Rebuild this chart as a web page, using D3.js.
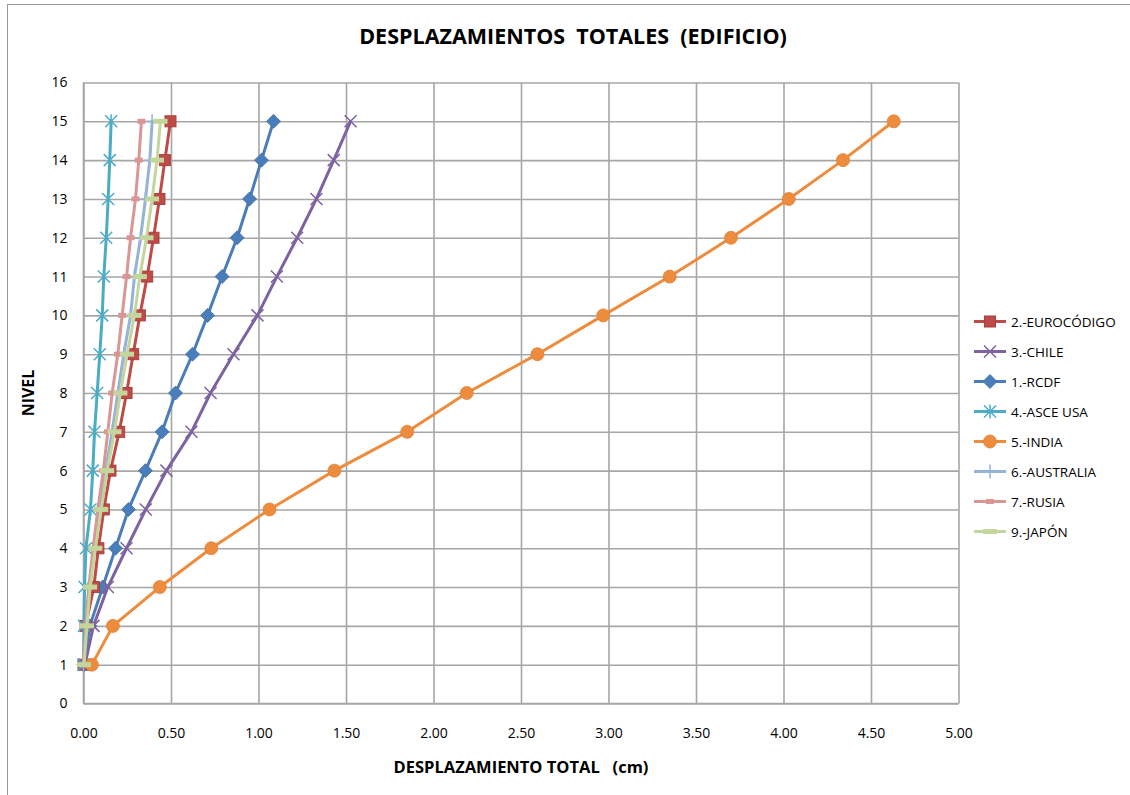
<!DOCTYPE html>
<html>
<head>
<meta charset="utf-8">
<script src="https://cdn.jsdelivr.net/npm/d3@7"></script>
<style>
  html, body { margin: 0; padding: 0; background: #ffffff; }
  svg { display: block; }
  text { font-family: "Open Sans", "Liberation Sans", sans-serif; fill: #000; }
  .keep-space { white-space: pre; }
</style>
</head>
<body>
<svg id="chart" width="1130" height="795"></svg>
<script>
// Levels of the building (y values)
const levels = [1, 2, 3, 4, 5, 6, 7, 8, 9, 10, 11, 12, 13, 14, 15];

// Total displacement per level (cm), one array per code
const eurocodigo = [0.000, 0.012, 0.059, 0.085, 0.116, 0.154, 0.204, 0.246, 0.284, 0.322, 0.364, 0.400, 0.434, 0.465, 0.497];
const chile      = [0.008, 0.057, 0.139, 0.246, 0.356, 0.474, 0.617, 0.726, 0.857, 0.994, 1.105, 1.221, 1.331, 1.430, 1.526];
const rcdf       = [0.003, 0.036, 0.110, 0.183, 0.257, 0.354, 0.449, 0.526, 0.623, 0.709, 0.792, 0.878, 0.949, 1.017, 1.086];
const asceUsa    = [0.000, 0.003, 0.006, 0.014, 0.040, 0.053, 0.063, 0.078, 0.093, 0.107, 0.116, 0.130, 0.141, 0.150, 0.158];
const india      = [0.048, 0.168, 0.436, 0.730, 1.063, 1.434, 1.850, 2.190, 2.594, 2.970, 3.350, 3.700, 4.030, 4.340, 4.630];
const australia  = [0.000, 0.015, 0.035, 0.060, 0.091, 0.126, 0.164, 0.196, 0.230, 0.269, 0.291, 0.326, 0.354, 0.379, 0.392];
const rusia      = [0.000, 0.012, 0.030, 0.055, 0.082, 0.113, 0.139, 0.164, 0.196, 0.221, 0.246, 0.269, 0.297, 0.316, 0.331];
const japon      = [0.003, 0.020, 0.038, 0.068, 0.101, 0.135, 0.177, 0.211, 0.249, 0.291, 0.322, 0.360, 0.392, 0.420, 0.440];

// Axis ticks
const xTicks = [0, 0.5, 1, 1.5, 2, 2.5, 3, 3.5, 4, 4.5, 5];
const yTicks = d3.range(0, 17);

// Series in legend order
const seriesNames  = ["2.-EUROCÓDIGO", "3.-CHILE", "1.-RCDF", "4.-ASCE USA", "5.-INDIA", "6.-AUSTRALIA", "7.-RUSIA", "9.-JAPÓN"];
const seriesValues = [eurocodigo, chile, rcdf, asceUsa, india, australia, rusia, japon];
const seriesColors = ["#BE4B48", "#7E62A1", "#4A7EBB", "#4BACC6", "#EE8C3E", "#95B3D7", "#D99694", "#C3D69B"];
const seriesMarkers = ["square", "x", "diamond", "star", "circle", "plus", "dashSmall", "dash"];

const svg = d3.select("#chart");

// Chart area frame
svg.append("rect")
  .attr("x", 7.5).attr("y", 4.5).attr("width", 1140).attr("height", 800)
  .attr("fill", "#fff").attr("stroke", "#9a9a9a").attr("stroke-width", 1);

const x = d3.scaleLinear().domain([0, 5]).range([83.5, 958.5]);
const y = d3.scaleLinear().domain([0, 16]).range([703.5, 82.5]);

// Gridlines
const grid = svg.append("g").attr("class", "grid");
grid.append("g")
  .attr("transform", `translate(0,${y(0)})`)
  .call(d3.axisBottom(x).tickValues(xTicks).tickSize(-(y(0) - y(16))).tickFormat(""))
  .call(g => g.select(".domain").remove())
  .call(g => g.selectAll("line").attr("stroke", "#a6a6a6").attr("stroke-width", 1.6));
grid.append("g")
  .attr("transform", `translate(${x(0)},0)`)
  .call(d3.axisLeft(y).tickValues(yTicks).tickSize(-(x(5) - x(0))).tickFormat(""))
  .call(g => g.select(".domain").remove())
  .call(g => g.selectAll("line").attr("stroke", "#a6a6a6").attr("stroke-width", 1.6));

// Axis lines
svg.append("line").attr("x1", x(0)).attr("x2", x(0)).attr("y1", y(16)).attr("y2", y(0))
  .attr("stroke", "#a6a6a6").attr("stroke-width", 1.6);
svg.append("line").attr("x1", x(0)).attr("x2", x(5)).attr("y1", y(0)).attr("y2", y(0))
  .attr("stroke", "#a6a6a6").attr("stroke-width", 1.6);

// Tick labels
const xAxis = svg.append("g")
  .attr("transform", `translate(0,${y(0)})`)
  .call(d3.axisBottom(x).tickValues(xTicks).tickSize(0).tickPadding(25).tickFormat(d3.format(".2f")));
xAxis.select(".domain").remove();
xAxis.selectAll("text").attr("font-size", 14).attr("font-family", "'Open Sans', sans-serif").attr("fill", "#000");

const yAxis = svg.append("g")
  .attr("transform", `translate(${x(0)},0)`)
  .call(d3.axisLeft(y).tickValues(yTicks).tickSize(0).tickPadding(16).tickFormat(d3.format("d")));
yAxis.select(".domain").remove();
yAxis.selectAll("text").attr("font-size", 14).attr("font-family", "'Open Sans', sans-serif").attr("fill", "#000");

// Titles
svg.append("text")
  .attr("class", "keep-space")
  .attr("x", 573).attr("y", 44)
  .attr("text-anchor", "middle")
  .attr("font-size", 21.5).attr("font-weight", "bold")
  .text("DESPLAZAMIENTOS  TOTALES  (EDIFICIO)");

svg.append("text")
  .attr("class", "keep-space")
  .attr("x", 521).attr("y", 773)
  .attr("text-anchor", "middle")
  .attr("font-size", 16.5).attr("font-weight", "bold")
  .text("DESPLAZAMIENTO TOTAL   (cm)");

svg.append("text")
  .attr("transform", "translate(34,393) rotate(-90)")
  .attr("text-anchor", "middle")
  .attr("font-size", 16).attr("font-weight", "bold")
  .text("NIVEL");

// Marker drawing
function drawMarker(g, type, color, cx, cy) {
  const dark = d3.color(color).darker(0.4);
  switch (type) {
    case "square":
      g.append("rect").attr("x", cx - 5.5).attr("y", cy - 5.5).attr("width", 11).attr("height", 11)
        .attr("fill", color).attr("stroke", dark).attr("stroke-width", 1);
      break;
    case "diamond":
      g.append("path").attr("d", `M${cx},${cy - 7}L${cx + 7},${cy}L${cx},${cy + 7}L${cx - 7},${cy}Z`)
        .attr("fill", color).attr("stroke", dark).attr("stroke-width", 0.8);
      break;
    case "circle":
      g.append("circle").attr("cx", cx).attr("cy", cy).attr("r", 6.5)
        .attr("fill", color).attr("stroke", d3.color(color).darker(0.2)).attr("stroke-width", 0.8);
      break;
    case "x":
      g.append("path").attr("d", `M${cx - 6},${cy - 6}L${cx + 6},${cy + 6}M${cx - 6},${cy + 6}L${cx + 6},${cy - 6}`)
        .attr("stroke", color).attr("stroke-width", 1.5).attr("fill", "none");
      break;
    case "star":
      g.append("path").attr("d", `M${cx - 6},${cy - 6}L${cx + 6},${cy + 6}M${cx - 6},${cy + 6}L${cx + 6},${cy - 6}M${cx},${cy - 7}L${cx},${cy + 7}`)
        .attr("stroke", color).attr("stroke-width", 1.5).attr("fill", "none");
      break;
    case "plus":
      g.append("path").attr("d", `M${cx},${cy - 7}L${cx},${cy + 7}M${cx - 6},${cy}L${cx + 6},${cy}`)
        .attr("stroke", color).attr("stroke-width", 1.5).attr("fill", "none");
      break;
    case "dashSmall":
      g.append("rect").attr("x", cx - 4).attr("y", cy - 2.5).attr("width", 8).attr("height", 5)
        .attr("fill", color);
      break;
    case "dash":
      g.append("rect").attr("x", cx - 7).attr("y", cy - 2.5).attr("width", 14).attr("height", 5)
        .attr("fill", color);
      break;
  }
}

// Series lines and markers
const line = d3.line().x(d => x(d[0])).y(d => y(d[1]));
const drawOrder = [2, 0, 1, 3, 4, 5, 6, 7];
drawOrder.forEach(i => {
  const pts = seriesValues[i].map((v, k) => [v, levels[k]]);
  const g = svg.append("g");
  g.append("path").datum(pts).attr("d", line)
    .attr("fill", "none").attr("stroke", seriesColors[i]).attr("stroke-width", 3)
    .attr("stroke-linejoin", "round").attr("stroke-linecap", "round");
  pts.forEach(p => drawMarker(g, seriesMarkers[i], seriesColors[i], x(p[0]), y(p[1])));
});

// Legend
const legend = svg.append("g");
seriesNames.forEach((name, i) => {
  const ly = 321.5 + i * 30;
  const lg = legend.append("g");
  lg.append("line").attr("x1", 974).attr("x2", 1006).attr("y1", ly).attr("y2", ly)
    .attr("stroke", seriesColors[i]).attr("stroke-width", 3);
  drawMarker(lg, seriesMarkers[i], seriesColors[i], 990, ly);
  lg.append("text").attr("x", 1011).attr("y", ly + 5)
    .attr("font-size", 13.5).text(name);
});
</script>
</body>
</html>
